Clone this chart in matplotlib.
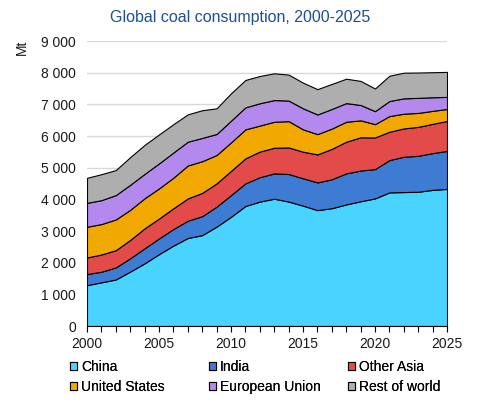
import matplotlib.pyplot as plt
from matplotlib.patches import Patch

years = list(range(2000, 2026))

china = [1290, 1380, 1470, 1720, 1980, 2270, 2540, 2780, 2870, 3140, 3450, 3790, 3930,
         4020, 3930, 3800, 3660, 3720, 3840, 3940, 4030, 4220, 4230, 4240, 4300, 4330]
india = [350, 335, 380, 420, 475, 495, 525, 545, 600, 630, 685, 715, 770,
         800, 870, 865, 875, 915, 980, 970, 925, 1020, 1115, 1135, 1160, 1200]
other_asia = [525, 545, 545, 580, 630, 630, 655, 705, 735, 735, 765, 790, 810,
              810, 840, 840, 885, 960, 1000, 1050, 1000, 895, 895, 915, 925, 945]
united_states = [970, 960, 970, 950, 950, 950, 965, 1040, 1000, 895, 900, 915, 820,
                 820, 830, 705, 640, 640, 630, 535, 420, 495, 465, 440, 410, 380]
european_union = [755, 755, 770, 790, 770, 790, 795, 750, 735, 665, 685, 695, 705,
                  685, 650, 665, 620, 620, 590, 485, 410, 475, 485, 475, 430, 380]
rest_of_world = [790, 820, 790, 875, 915, 915, 895, 865, 875, 810, 865, 865, 860,
                 845, 820, 810, 800, 790, 770, 760, 715, 800, 810, 800, 790, 790]

labels = ['China', 'India', 'Other Asia', 'United States', 'European Union', 'Rest of world']
colors = ['#48D4FF', '#3E7BD3', '#E34B4B', '#F1A800', '#B389EE', '#AEAEAE']

yticks = list(range(0, 9001, 1000))
xticks = [2000, 2005, 2010, 2015, 2020, 2025]

plt.switch_backend('AGG')
plt.rcParams['font.family'] = ['Liberation Sans', 'DejaVu Sans']

fig = plt.figure(figsize=(4.82, 4.05), dpi=100)
ax = fig.add_axes([0.1805, 0.195, 0.7469, 0.7037])

series = [china, india, other_asia, united_states, european_union, rest_of_world]
ax.stackplot(years, series, colors=colors, edgecolor='black', linewidth=0.8, zorder=2)

ax.set_xlim(2000, 2025)
ax.set_ylim(0, 9000)
ax.set_yticks(yticks)
ax.set_yticklabels([f'{v:,}'.replace(',', ' ') for v in yticks])
ax.set_xticks(xticks)
ax.set_xticks(years, minor=True)
ax.tick_params(axis='y', length=0, pad=8, labelsize=10, labelcolor='#1a1a1a')
ax.tick_params(axis='x', which='both', direction='out', length=4, width=0.8,
               labelsize=10, labelcolor='#1a1a1a', pad=4)
ax.grid(axis='y', color='#d9d9d9', linewidth=1, zorder=0)
ax.set_axisbelow(True)
for s in ['top', 'right', 'left']:
    ax.spines[s].set_visible(False)
ax.spines['bottom'].set_color('black')
ax.spines['bottom'].set_linewidth(0.8)

fig.text(0.046, 0.882, 'Mt', rotation=90, fontsize=10, color='#1a1a1a', ha='center', va='center')
fig.text(0.499, 0.958, 'Global coal consumption, 2000-2025', fontsize=11.5,
         color='#1F4E91', ha='center', va='center')

# legend: three fixed-width columns, two rows
handles = [Patch(facecolor=c, edgecolor='black', linewidth=0.8) for c in colors]
col_x = [70 / 482, 209 / 482, 348 / 482]
for i, x in enumerate(col_x):
    leg = fig.legend([handles[i], handles[i + 3]], [labels[i], labels[i + 3]], ncol=1,
                     loc='upper left', bbox_to_anchor=(x, 0.112), frameon=False,
                     fontsize=10, handlelength=0.5, handleheight=0.5, handletextpad=0.3,
                     labelspacing=0.45, borderaxespad=0, borderpad=0)
    fig.add_artist(leg)

plt.savefig('out.png', dpi=100)
